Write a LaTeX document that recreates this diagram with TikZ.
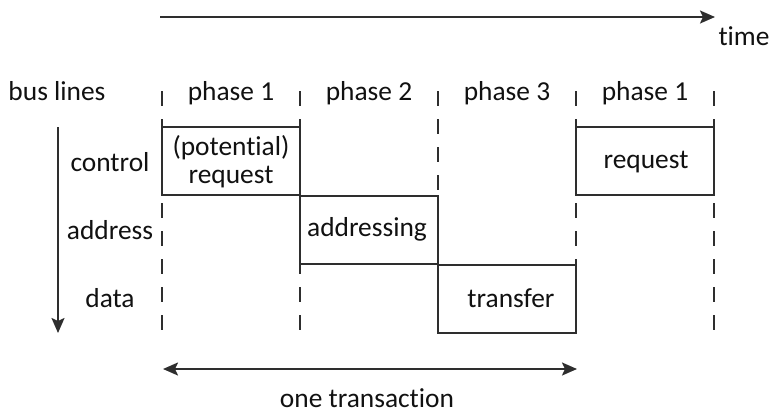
\documentclass[tikz,border=0pt]{standalone}
\usepackage{fontspec}
\setmainfont{Carlito}[Ligatures={NoCommon,NoRequired,NoContextual}]
\usetikzlibrary{arrows.meta}
\definecolor{linec}{HTML}{2E2E2E}
\definecolor{textc}{HTML}{111111}
\begin{document}
\begin{tikzpicture}[x=1pt,y=-1pt,
  txt/.style={font=\fontsize{27.4}{28}\selectfont, text=textc, inner sep=0pt, anchor=base},
  guide/.style={draw=linec, line width=2pt, dash pattern=on 15pt off 13pt},
  phasebox/.style={draw=linec, line width=2pt, fill=white, minimum width=138pt,
    minimum height=68pt, inner sep=0pt},
  arrowline/.style={draw=linec, line width=2pt},
  tip/.style={-{Stealth[length=15pt,width=13pt,inset=3pt]}},
  twotip/.style={{Stealth[length=15pt,width=13pt,inset=3pt]}-{Stealth[length=15pt,width=13pt,inset=3pt]}}]
\useasboundingbox (0,0) rectangle (770,413);

% time axis
\coordinate (t0) at (160,17);
\coordinate (t1) at (715,17);
\draw[arrowline,tip] (t0) -- (t1);
\node[txt] (time) at (744,45) {time};

% phase boundaries
\foreach \i/\x in {0/162,1/300,2/438,3/576,4/714}{
  \coordinate (g\i t) at (\x,91);
  \coordinate (g\i b) at (\x,333);
  \draw[guide] (g\i t) -- (g\i b);
}

% header row
\node[txt] (bus) at (57,100) {bus lines};
\node[txt] (ph1) at (231,100) {phase 1};
\node[txt] (ph2) at (369,100) {phase 2};
\node[txt] (ph3) at (507,100) {phase 3};
\node[txt] (ph4) at (645,100) {phase 1};

% bus line axis
\coordinate (b0) at (58,127);
\coordinate (b1) at (58,333);
\draw[arrowline,tip] (b0) -- (b1);
\node[txt] (ctl) at (110,171) {control};
\node[txt] (adr) at (110,239) {address};
\node[txt] (dat) at (110,307) {data};

% activity per phase
\node[phasebox] (req1) at (231,161) {};
\node[phasebox] (addr) at (369,230) {};
\node[phasebox] (xfer) at (507,299) {};
\node[phasebox] (req2) at (645,161) {};
\node[txt] (req1a) at (231,155) {(potential)};
\node[txt] (req1b) at (231,183) {request};
\node[txt] (addrt) at (367,236) {addressing};
\node[txt] (xfert) at (511,307) {transfer};
\node[txt] (req2t) at (646,168) {request};

% transaction span
\coordinate (s0) at (163,369);
\coordinate (s1) at (577,369);
\draw[arrowline,twotip] (s0) -- (s1);
\node[txt] (one) at (367,407) {one transaction};
\end{tikzpicture}
\end{document}
